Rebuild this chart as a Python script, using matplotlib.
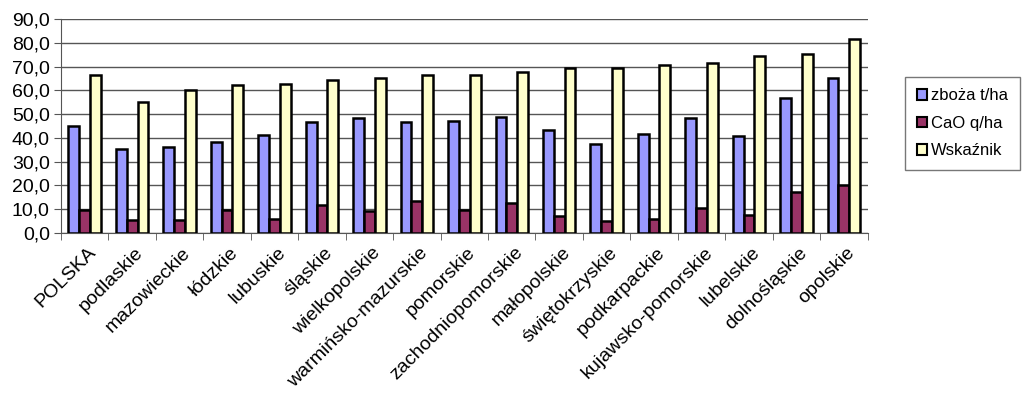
# Zboża, CaO i wskaźnik wg województw
import numpy as np
import matplotlib.pyplot as plt

plt.rcParams['font.family'] = ['Liberation Sans', 'DejaVu Sans']

regions = ['POLSKA', 'podlaskie', 'mazowieckie', 'łódzkie', 'lubuskie', 'śląskie',
           'wielkopolskie', 'warmińsko-mazurskie', 'pomorskie', 'zachodniopomorskie',
           'małopolskie', 'świętokrzyskie', 'podkarpackie', 'kujawsko-pomorskie',
           'lubelskie', 'dolnośląskie', 'opolskie']
zboza = [44.9, 35.4, 36.2, 38.3, 41.4, 46.5, 48.3, 46.5, 47.0, 48.9,
         43.2, 37.3, 41.6, 48.4, 41.0, 56.6, 65.4]
cao = [9.5, 5.3, 5.6, 9.8, 5.8, 11.7, 9.4, 13.3, 9.5, 12.5,
       7.0, 4.9, 5.8, 10.5, 7.4, 17.4, 20.4]
wskaznik = [66.3, 55.3, 60.2, 62.1, 62.5, 64.4, 65.0, 66.3, 66.3, 67.8,
            69.6, 69.6, 70.6, 71.3, 74.4, 75.3, 81.6]
series_names = ['zboża t/ha', 'CaO q/ha', 'Wskaźnik']
colors = ['#9999FF', '#993366', '#FFFFCC']

fig = plt.figure(figsize=(10.23, 3.96), dpi=100)
ax = fig.add_axes([0.0596, 0.4116, 0.7885, 0.5404])

x = np.arange(len(regions))
w = 0.228
for i, (vals, name, c) in enumerate(zip([zboza, cao, wskaznik], series_names, colors)):
    ax.bar(x + (i - 1) * w, vals, w, color=c, edgecolor='black', linewidth=1.8,
           label=name, zorder=3)

ax.set_xlim(-0.5, len(regions) - 0.5)
ax.set_ylim(0, 90)
ax.set_yticks(np.arange(0, 91, 10))
ax.set_yticklabels([f'{v:.1f}'.replace('.', ',') for v in np.arange(0, 91, 10)], fontsize=14)
ax.grid(axis='y', color='#555555', linewidth=1.0, zorder=0)

ax.set_xticks(x + 0.05)
ax.set_xticklabels(regions, rotation=45, ha='right', rotation_mode='anchor', fontsize=14)
ax.set_xticks(np.arange(-0.5, len(regions), 1), minor=True)
ax.tick_params(axis='x', which='major', length=0, pad=8)
ax.tick_params(axis='x', which='minor', length=5, color='#555555', direction='out')
ax.tick_params(axis='y', length=5, color='#555555', pad=3)

for s in ['top', 'right']:
    ax.spines[s].set_visible(False)
for s in ['left', 'bottom']:
    ax.spines[s].set_color('#555555')

leg = fig.legend(loc='upper left', bbox_to_anchor=(0.885, 0.806), fontsize=12,
                 frameon=True, fancybox=False, edgecolor='#555555',
                 borderaxespad=0, handlelength=0.6, handleheight=0.6,
                 handletextpad=0.25, borderpad=0.7, labelspacing=0.75)
for h in leg.legend_handles:
    h.set_linewidth(1.5)

fig.savefig('out.png', dpi=100)
